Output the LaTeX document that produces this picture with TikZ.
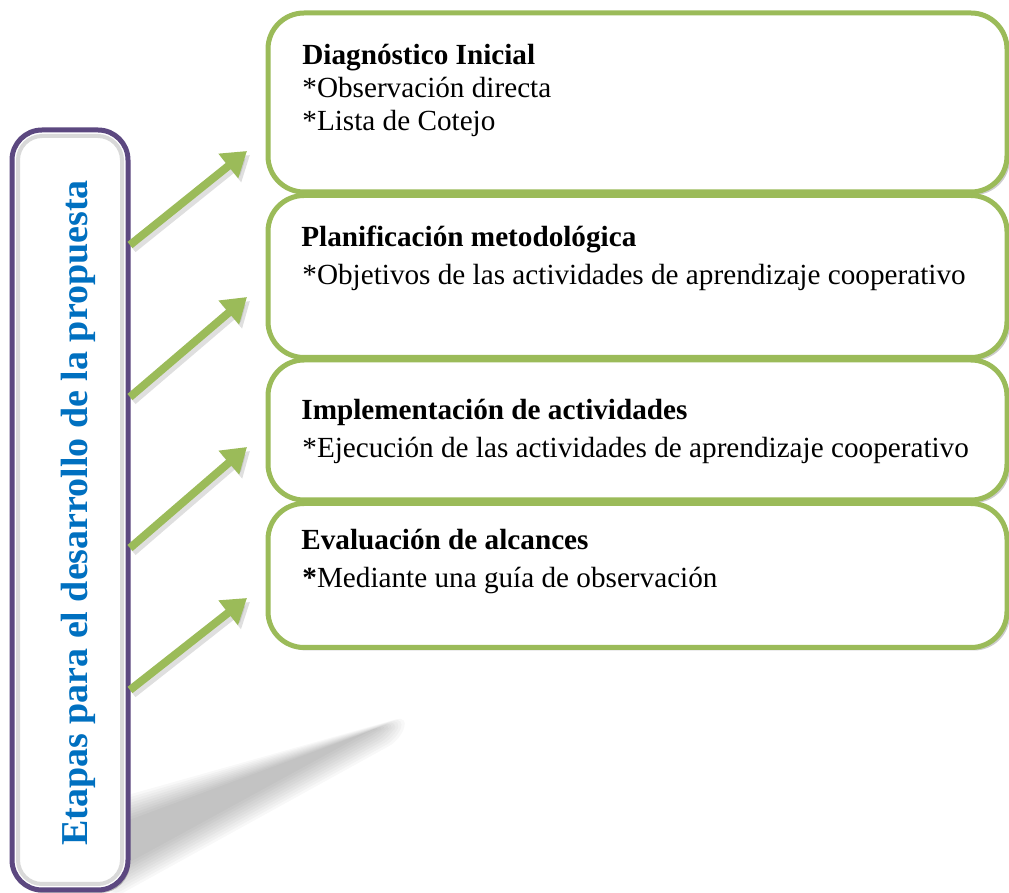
\documentclass[tikz,border=0pt]{standalone}
\usepackage{fontspec}
\setmainfont{Liberation Serif}
\usetikzlibrary{arrows.meta,shadows}

\definecolor{verde}{HTML}{9BBB59}
\definecolor{morado}{HTML}{5C4880}
\definecolor{azul}{HTML}{0070C0}

\begin{document}
\begin{tikzpicture}[x=0.5pt,y=-0.5pt,
	etapa/.style={draw=verde,line width=2.5pt,fill=white,rounded corners=18pt,minimum width=369.5pt,
		drop shadow={shadow xshift=1.5pt,shadow yshift=-1.5pt,opacity=0.4}},
	titulo/.style={anchor=base west,inner sep=0pt,font=\bfseries\fontsize{14.6}{17}\selectfont},
	item/.style={anchor=base west,inner sep=0pt,font=\fontsize{14.6}{17}\selectfont},
	flecha/.style={verde,line width=4pt,-{Triangle[width=15pt,length=12pt]}},
	flechasombra/.style={gray,opacity=0.25,line width=4pt,-{Triangle[width=15pt,length=12pt]}}]
		\useasboundingbox (0,0) rectangle (1009,893);
		% sombra de la barra
		\foreach \k in {0,...,9}
			\fill[black!70,opacity=0.04,rounded corners=6pt] (110,800+\k*3) -- (408-\k*3,716+\k*1.2) -- (400-\k*3,740-\k*1.2) -- (110,900-\k*3) -- cycle;
		% barra izquierda
		\node[draw=morado,line width=2.5pt,fill=white,rounded corners=15pt,minimum width=58pt,minimum height=380pt,
			drop shadow={shadow xshift=1pt,shadow yshift=-1.5pt,opacity=0.5}] (etapas) at (70,510) {};
		\draw[gray!30,line width=2pt,rounded corners=12pt] (18,136) rectangle (122,884);
		\node[rotate=90,anchor=base,inner sep=0pt,text=azul,font=\bfseries\fontsize{19}{22}\selectfont] (etapasT) at (88,513) {Etapas para el desarrollo de la propuesta};
		% cajas
		\node[etapa,minimum height=89.5pt] (diag) at (637.5,102.5) {};
		\node[etapa,minimum height=81pt] (plan) at (637.5,276.5) {};
		\node[etapa,minimum height=70pt] (impl) at (637.5,430) {};
		\node[etapa,minimum height=72pt] (eval) at (637.5,575.5) {};
		\node[titulo] (diagT) at (302,65) {Diagnóstico Inicial};
		\node[item] (diag1) at (302,98) {*Observación directa};
		\node[item] (diag2) at (302,131) {*Lista de Cotejo};
		\node[titulo] (planT) at (301,247) {Planificación metodológica};
		\node[item] (plan1) at (302,285) {*Objetivos de las actividades de aprendizaje cooperativo};
		\node[titulo] (implT) at (301,420) {Implementación de actividades};
		\node[item] (impl1) at (302,458) {*Ejecución de las actividades de aprendizaje cooperativo};
		\node[titulo] (evalT) at (301,550) {Evaluación de alcances};
		\node[item] (eval1) at (302,588) {\textbf{*}Mediante una guía de observación};
		% flechas
		\foreach \i/\ya/\yb in {1/245/151,2/397/297,3/548/447,4/690/598} {
			\coordinate (a\i) at (130,\ya);
			\coordinate (b\i) at (247,\yb);
			\draw[flechasombra] ([shift={(1.5pt,-2pt)}]a\i) -- ([shift={(1.5pt,-2pt)}]b\i);
			\draw[flecha] (a\i) -- (b\i);
		}
	\end{tikzpicture}
\end{document}
